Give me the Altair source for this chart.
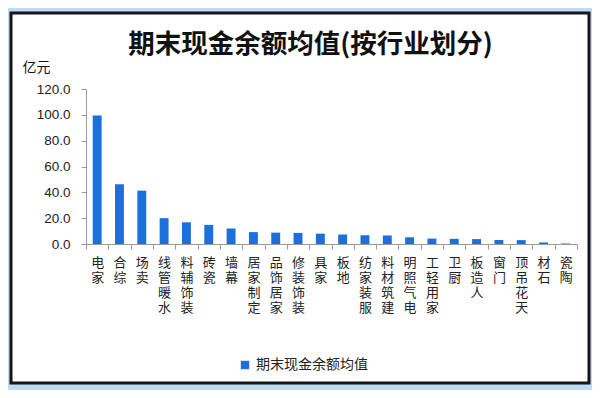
import altair as alt
import pandas as pd

categories = ["家电", "综合", "卖场", "水暖管线", "装饰辅料", "瓷砖", "幕墙", "定制家居",
              "家居饰品", "装饰装修", "家具", "地板", "服装家纺", "建筑材料", "电气照明",
              "家用轻工", "厨卫", "人造板", "门窗", "天花吊顶", "石材", "陶瓷"]
values = [99.5, 46.3, 41.3, 20.0, 16.8, 14.8, 12.0, 9.2, 8.8, 8.6, 8.0, 7.4, 6.8, 6.6,
          5.2, 4.2, 4.0, 3.8, 3.1, 3.0, 1.2, 0.4]
series_name = "期末现金余额均值"
y_ticks = [0, 20, 40, 60, 80, 100, 120]

df = pd.DataFrame({"cat": categories, "val": values, "series": [series_name] * len(categories)})

BAR = "#1d6fdc"
CJK = "Noto Sans CJK SC"

panel = alt.Chart(pd.DataFrame({"p": [0]})).mark_rect(
    fill="white", stroke="#161616", strokeWidth=3
).encode(
    x=alt.value(-75), x2=alt.value(503), y=alt.value(-76), y2=alt.value(294)
)

bars = alt.Chart(df).mark_bar(width={"band": 0.4}).encode(
    x=alt.X("cat:N", sort=categories,
            scale=alt.Scale(paddingInner=0, paddingOuter=0),
            axis=alt.Axis(title=None, labelAngle=0, tickBand="extent", zindex=2,
                          labelExpr="reverse(split(datum.label, ''))",
                          labelFont=CJK, labelFontSize=13, labelLineHeight=15,
                          labelBaseline="top", labelPadding=7, labelColor="#222",
                          tickSize=5, domainColor="#9a9a9a", tickColor="#9a9a9a")),
    y=alt.Y("val:Q", scale=alt.Scale(domain=[0, 120], nice=False),
            axis=alt.Axis(values=y_ticks, format=".1f", grid=False, zindex=2,
                          title="亿元", titleAngle=0, titleX=-64, titleY=-22,
                          titleAlign="left", titleBaseline="middle",
                          titleFont=CJK, titleFontSize=14, titleFontWeight="normal",
                          titleColor="#111",
                          labelFont="Liberation Sans", labelFontSize=13.5, labelColor="#222",
                          labelPadding=11, tickSize=5,
                          domainColor="#9a9a9a", tickColor="#9a9a9a")),
    color=alt.Color("series:N", scale=alt.Scale(range=[BAR]),
                    legend=alt.Legend(title=None, orient="none", legendX=152, legendY=269,
                                      symbolType="square", symbolSize=70,
                                      symbolStrokeWidth=0, zindex=2,
                                      labelFont=CJK, labelFontSize=14, labelColor="#222")),
)

chart = alt.layer(panel, bars).properties(
    width=491, height=155,
    title=alt.TitleParams("期末现金余额均值(按行业划分)", font=CJK, fontSize=26.5,
                          fontWeight="bold", color="#111", anchor="middle",
                          frame="group", dx=-21, dy=51, zindex=2),
    autosize=alt.AutoSizeParams(type="none"),
    padding={"left": 78, "top": 81, "right": 15, "bottom": 146},
    background="#c0dbf5",
).configure_view(stroke=None)

chart.save("out.html", embed_options={"renderer": "svg", "actions": False})
